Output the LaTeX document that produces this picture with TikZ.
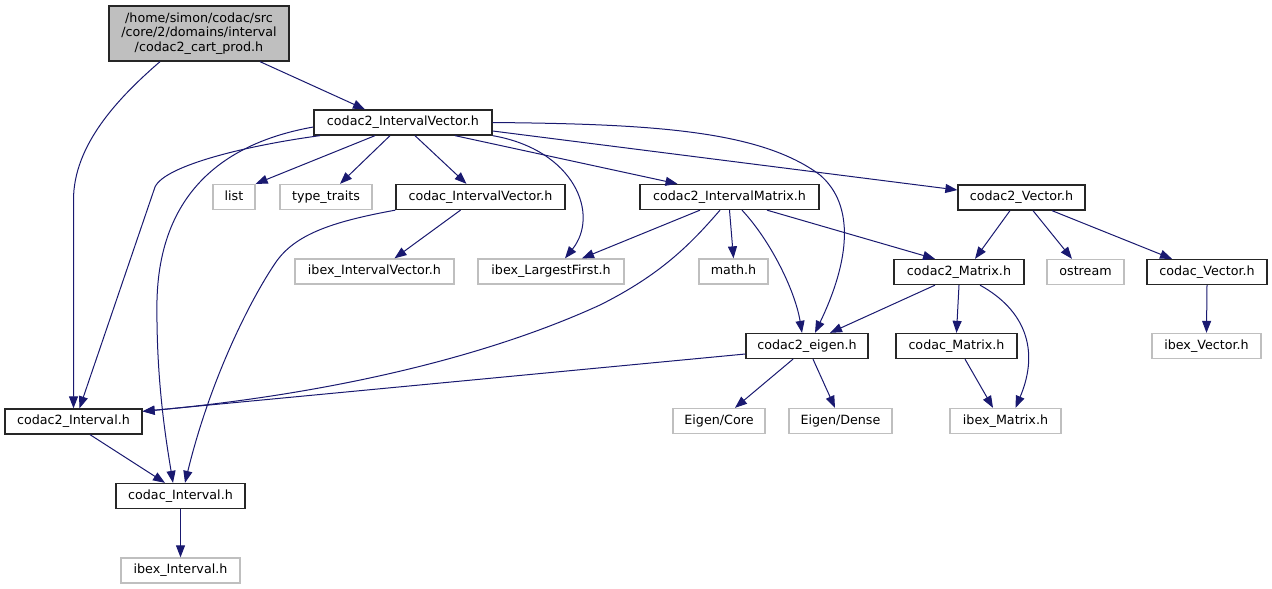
\documentclass[tikz,border=0pt]{standalone}
\usepackage{fontspec}
\setmainfont{DejaVu Sans}
\usetikzlibrary{arrows.meta}
\definecolor{edgeblue}{HTML}{191970}
\definecolor{sysgray}{HTML}{BFBFBF}

\begin{document}
\begin{tikzpicture}[
		x=1pt, y=-1pt,
		>={Triangle[length=12pt, width=9pt]},
		every node/.style={font=\fontsize{12.7}{14.5}\selectfont, inner sep=0pt},
		hdr/.style={draw=black!85, line width=1.3pt, minimum height=25pt, text height=9.5pt, text depth=3pt},
		sys/.style={draw=sysgray, line width=1.3pt, minimum height=25pt, text height=9.5pt, text depth=3pt},
		top/.style={draw=black!85, line width=1.3pt, fill=sysgray, minimum width=180pt, minimum height=55pt, align=center},
		dep/.style={->, draw=edgeblue, line width=1pt}
	]
	\path[use as bounding box, fill=white] (0,0) rectangle (1272,589);

	% Nodes
	\node[top] (cart) at (199,33.5) {/home/simon/codac/src\\/core/2/domains/interval\\/codac2\_cart\_prod.h};

	\node[hdr, minimum width=178pt] (ivec2) at (403,122.5) {codac2\_IntervalVector.h};

	\node[sys, minimum width=42pt] (list) at (234,197) {list};
	\node[sys, minimum width=92pt] (traits) at (326,197) {type\_traits};
	\node[hdr, minimum width=169pt] (ivec) at (480.5,197) {codac\_IntervalVector.h};
	\node[hdr, minimum width=179pt] (imat2) at (729.5,197) {codac2\_IntervalMatrix.h};
	\node[hdr, minimum width=127pt] (vec2) at (1021.5,197.5) {codac2\_Vector.h};

	\node[sys, minimum width=159pt] (ibexivec) at (374.5,271.5) {ibex\_IntervalVector.h};
	\node[sys, minimum width=146pt] (ibexlf) at (551,271.5) {ibex\_LargestFirst.h};
	\node[sys, minimum width=69pt] (math) at (733.5,271.5) {math.h};
	\node[hdr, minimum width=130pt] (mat2) at (959,272) {codac2\_Matrix.h};
	\node[sys, minimum width=77pt] (ostream) at (1085.5,272) {ostream};
	\node[hdr, minimum width=120pt] (vec) at (1207,272) {codac\_Vector.h};

	\node[hdr, minimum width=122pt] (eigen2) at (807,346) {codac2\_eigen.h};
	\node[hdr, minimum width=121pt] (mat) at (956.5,346) {codac\_Matrix.h};
	\node[sys, minimum width=109pt] (ibexvec) at (1206.5,346) {ibex\_Vector.h};

	\node[hdr, minimum width=137pt] (itv2) at (73.5,421.5) {codac2\_Interval.h};
	\node[sys, minimum width=92pt] (core) at (719,421) {Eigen/Core};
	\node[sys, minimum width=103pt] (dense) at (840.5,421) {Eigen/Dense};
	\node[sys, minimum width=111pt] (ibexmat) at (1005.5,421) {ibex\_Matrix.h};

	\node[hdr, minimum width=129pt] (itv) at (180.5,496) {codac\_Interval.h};
	\node[sys, minimum width=119pt] (ibexitv) at (180.5,570.5) {ibex\_Interval.h};

	% Arrows
	\draw[dep] ([xshift=61pt]cart.south) -- ([xshift=-38pt]ivec2.north);
	\draw[dep] ([xshift=-39pt]cart.south) .. controls (118,98) and (73.5,145) .. (73.5,200) -- (itv2.north);

	\draw[dep] ([xshift=-28pt]ivec2.south) -- (list.north east);
	\draw[dep] ([xshift=-13pt]ivec2.south) -- ([xshift=14pt]traits.north);
	\draw[dep] ([xshift=12pt]ivec2.south) -- ([xshift=-14pt]ivec.north);
	\draw[dep] ([xshift=52pt]ivec2.south) -- ([xshift=-52pt]imat2.north);
	\draw[dep] ([yshift=-8.5pt]ivec2.east) -- ([yshift=7.5pt]vec2.west);
	\draw[dep] (ivec2.south east) .. controls (575,150) and (600,215) .. ([xshift=14pt]ibexlf.north);
	\draw[dep] (ivec2.east) .. controls (650,124) and (760,130) .. (820,175) .. controls (855,205) and (850,260) .. ([xshift=8pt]eigen2.north);
	\draw[dep] ([xshift=-83pt]ivec2.south) .. controls (250,145) and (165,165) .. (155,187) -- ([xshift=6pt]itv2.north);
	\draw[dep] ([yshift=-4.5pt]ivec2.west) .. controls (240,140) and (160,180) .. (157,300) .. controls (156,380) and (166,440) .. ([xshift=-7.5pt]itv.north);

	\draw[dep] ([xshift=-20pt]ivec.south) -- ([xshift=20pt]ibexivec.north);
	\draw[dep] (ivec.south west) .. controls (330,222) and (295,235) .. (276,262) .. controls (250,300) and (210,380) .. ([xshift=4.5pt]itv.north);

	\draw[dep] ([xshift=-29.5pt]imat2.south) -- ([xshift=31pt]ibexlf.north);
	\draw[dep] (imat2.south) -- (math.north);
	\draw[dep] ([xshift=12.5pt]imat2.south) .. controls (770,240) and (795,290) .. ([xshift=-5pt]eigen2.north);
	\draw[dep] ([xshift=37.5pt]imat2.south) -- ([xshift=-24pt]mat2.north);
	\draw[dep] ([xshift=-9.5pt]imat2.south) .. controls (690,245) and (660,275) .. (600,305) .. controls (480,360) and (320,395) .. ([yshift=-3pt]itv2.north east);

	\draw[dep] ([xshift=-11.5pt]vec2.south) -- ([xshift=16pt]mat2.north);
	\draw[dep] ([xshift=11.5pt]vec2.south) -- ([xshift=-13.5pt]ostream.north);
	\draw[dep] ([xshift=30.5pt]vec2.south) -- ([xshift=-35pt]vec.north);

	\draw[dep] ([xshift=-24pt]mat2.south) -- ([xshift=23pt]eigen2.north);
	\draw[dep] (mat2.south) -- (mat.north);
	\draw[dep] ([xshift=21pt]mat2.south) .. controls (1025,310) and (1040,350) .. ([xshift=10pt]ibexmat.north);
	\draw[dep] (vec.south) -- (ibexvec.north);

	\draw[dep] ([yshift=-8pt]eigen2.west) -- ([yshift=-3pt]itv2.north east);
	\draw[dep] ([xshift=-14pt]eigen2.south) -- ([xshift=16pt]core.north);
	\draw[dep] ([xshift=6pt]eigen2.south) -- ([xshift=-5.5pt]dense.north);
	\draw[dep] ([xshift=8.5pt]mat.south) -- ([xshift=-12.5pt]ibexmat.north);

	\draw[dep] ([xshift=16.5pt]itv2.south) -- ([xshift=-15.5pt]itv.north);
	\draw[dep] (itv.south) -- (ibexitv.north);

\end{tikzpicture}
\end{document}
